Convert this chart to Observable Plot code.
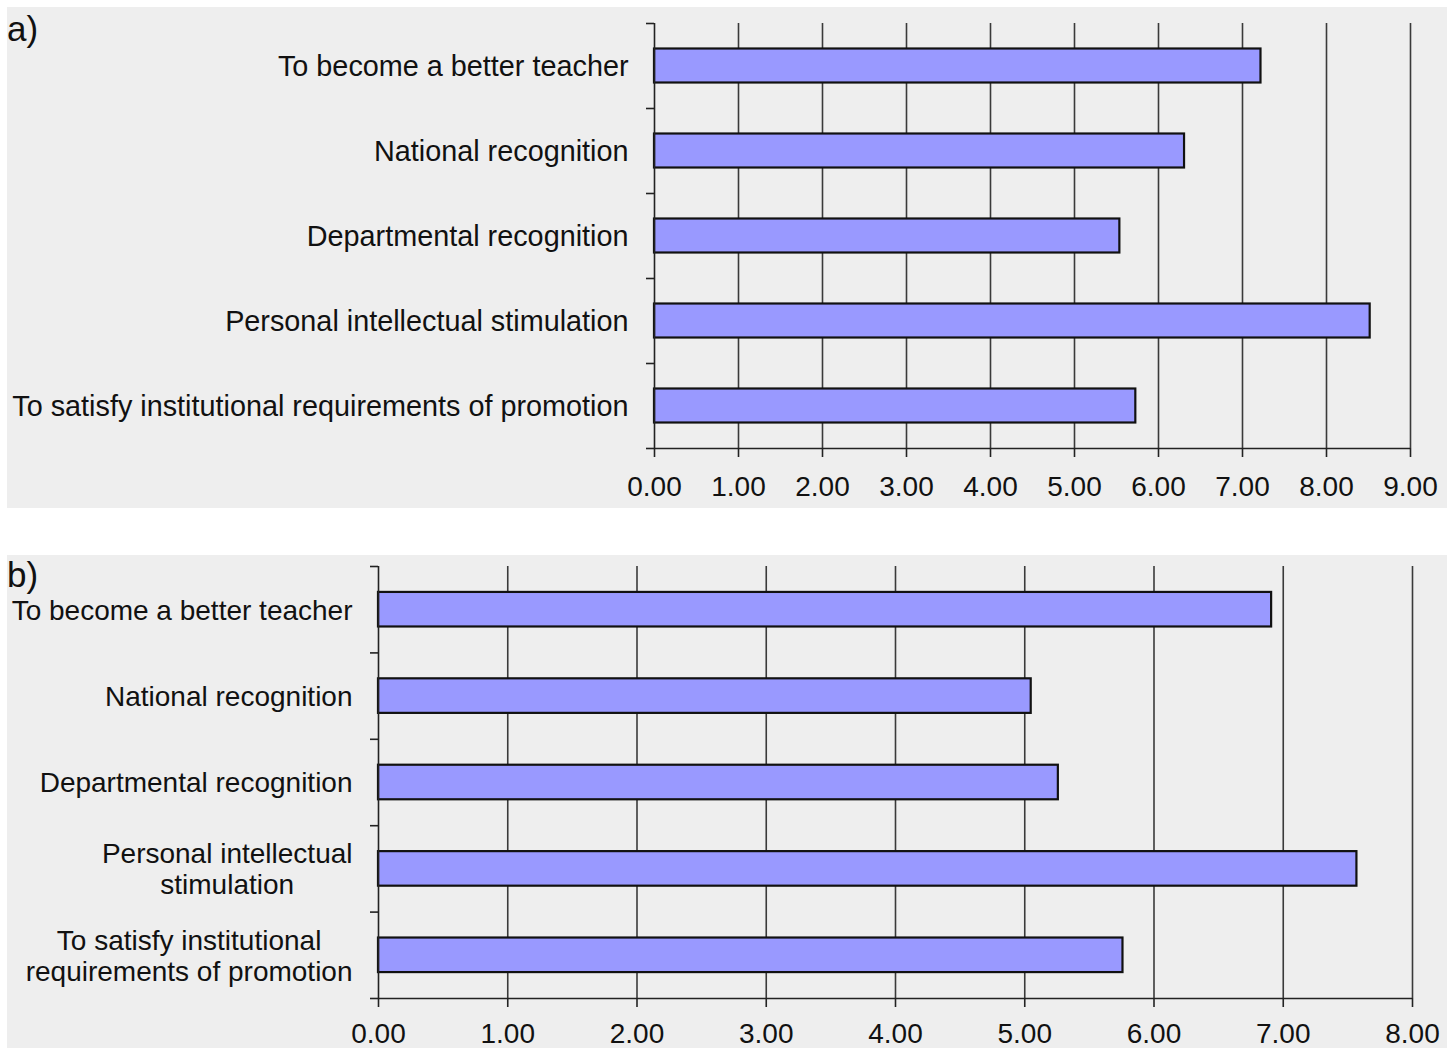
<!DOCTYPE html>
<html><head><meta charset="utf-8">
<script src="https://cdn.jsdelivr.net/npm/d3@7"></script>
<script src="https://cdn.jsdelivr.net/npm/@observablehq/plot@0.6"></script>
<style>
html,body{margin:0;padding:0;background:#fff;}
#root{position:relative;width:1455px;height:1048px;overflow:hidden;font-family:"Liberation Sans",Arial,sans-serif;}
.panel{position:absolute;left:7px;width:1440px;background:#eeeeee;}
.panel svg{position:absolute;left:0;top:0;overflow:visible;}
.tag{position:absolute;left:0px;top:4px;font-size:35px;line-height:35px;color:#111;z-index:2;}
</style></head><body>
<div id="root">
  <div class="panel" id="pa" style="top:7px;height:501px;"><div class="tag">a)</div></div>
  <div class="panel" id="pb" style="top:555px;height:493px;"><div class="tag" style="top:2px;">b)</div></div>
</div>
<script>
const categories = [
  "To become a better teacher",
  "National recognition",
  "Departmental recognition",
  "Personal intellectual stimulation",
  "To satisfy institutional requirements of promotion"
];
const labelsB = [
  "To become a better teacher",
  "National recognition",
  "Departmental recognition",
  "Personal intellectual\nstimulation",
  "To satisfy institutional\nrequirements of promotion"
];
const valuesA = [7.22, 6.31, 5.54, 8.52, 5.73];
const valuesB = [6.91, 5.05, 5.26, 7.57, 5.76];
const ticksA = [0, 1, 2, 3, 4, 5, 6, 7, 8, 9];
const ticksB = [0, 1, 2, 3, 4, 5, 6, 7, 8];

const FONT = '"Liberation Sans", Arial, sans-serif';
const ctx = document.createElement("canvas").getContext("2d");
function textWidth(s, size) {
  ctx.font = `${size}px ${FONT}`;
  return Math.max(...s.split("\n").map(l => ctx.measureText(l).width));
}

function makeChart({labels, values, ticks, width, height, marginTop, marginBottom, marginLeft, marginRight, tickPadding, labelSize}) {
  const n = labels.length;
  const data = labels.map((label, i) => ({label, i, value: values[i]}));
  const boundaries = d3.range(n + 1).map(k => k - 0.5);
  const labelMarks = data.map(d => Plot.text([d], {
    frameAnchor: "left", y: "i", text: "label",
    textAnchor: "middle", lineAnchor: "middle",
    dx: -(26 + textWidth(d.label, labelSize) / 2),
    fontSize: labelSize, lineHeight: 1.1, fill: "#111"
  }));
  return Plot.plot({
    width, height, marginTop, marginBottom, marginLeft, marginRight,
    style: {background: "transparent", fontFamily: FONT, color: "#111", overflow: "visible"},
    x: {domain: [ticks[0], ticks[ticks.length - 1]], axis: null},
    y: {domain: [n - 0.5, -0.5], axis: null},
    marks: [
      Plot.ruleX(ticks.filter(t => t > 0), {stroke: "#3a3a3a", strokeWidth: 1.6}),
      Plot.rectX(data, {x1: 0, x2: "value", y1: d => d.i - 0.2, y2: d => d.i + 0.2,
        fill: "#9999ff", stroke: "#111", strokeWidth: 2.2}),
      Plot.ruleX([0], {stroke: "#222", strokeWidth: 1.6}),
      Plot.ruleY([n - 0.5], {stroke: "#222", strokeWidth: 1.6}),
      Plot.axisY(boundaries, {tickSize: 8, fill: "none", label: null, stroke: "#222", strokeWidth: 1.6}),
      Plot.axisX(ticks, {tickSize: 9, tickPadding, tickFormat: d => d.toFixed(2), fontSize: 28,
        label: null, stroke: "#222", strokeWidth: 1.6, fill: "#111"}),
      ...labelMarks
    ]
  });
}

document.getElementById("pa").appendChild(makeChart({
  labels: categories, values: valuesA, ticks: ticksA, labelSize: 28.8,
  width: 1440, height: 501, marginTop: 16, marginBottom: 60, marginLeft: 647, marginRight: 37, tickPadding: 19
}));
document.getElementById("pb").appendChild(makeChart({
  labels: labelsB, values: valuesB, ticks: ticksB, labelSize: 28,
  width: 1440, height: 493, marginTop: 11, marginBottom: 50, marginLeft: 371, marginRight: 35, tickPadding: 16
}));
</script>
</body></html>
